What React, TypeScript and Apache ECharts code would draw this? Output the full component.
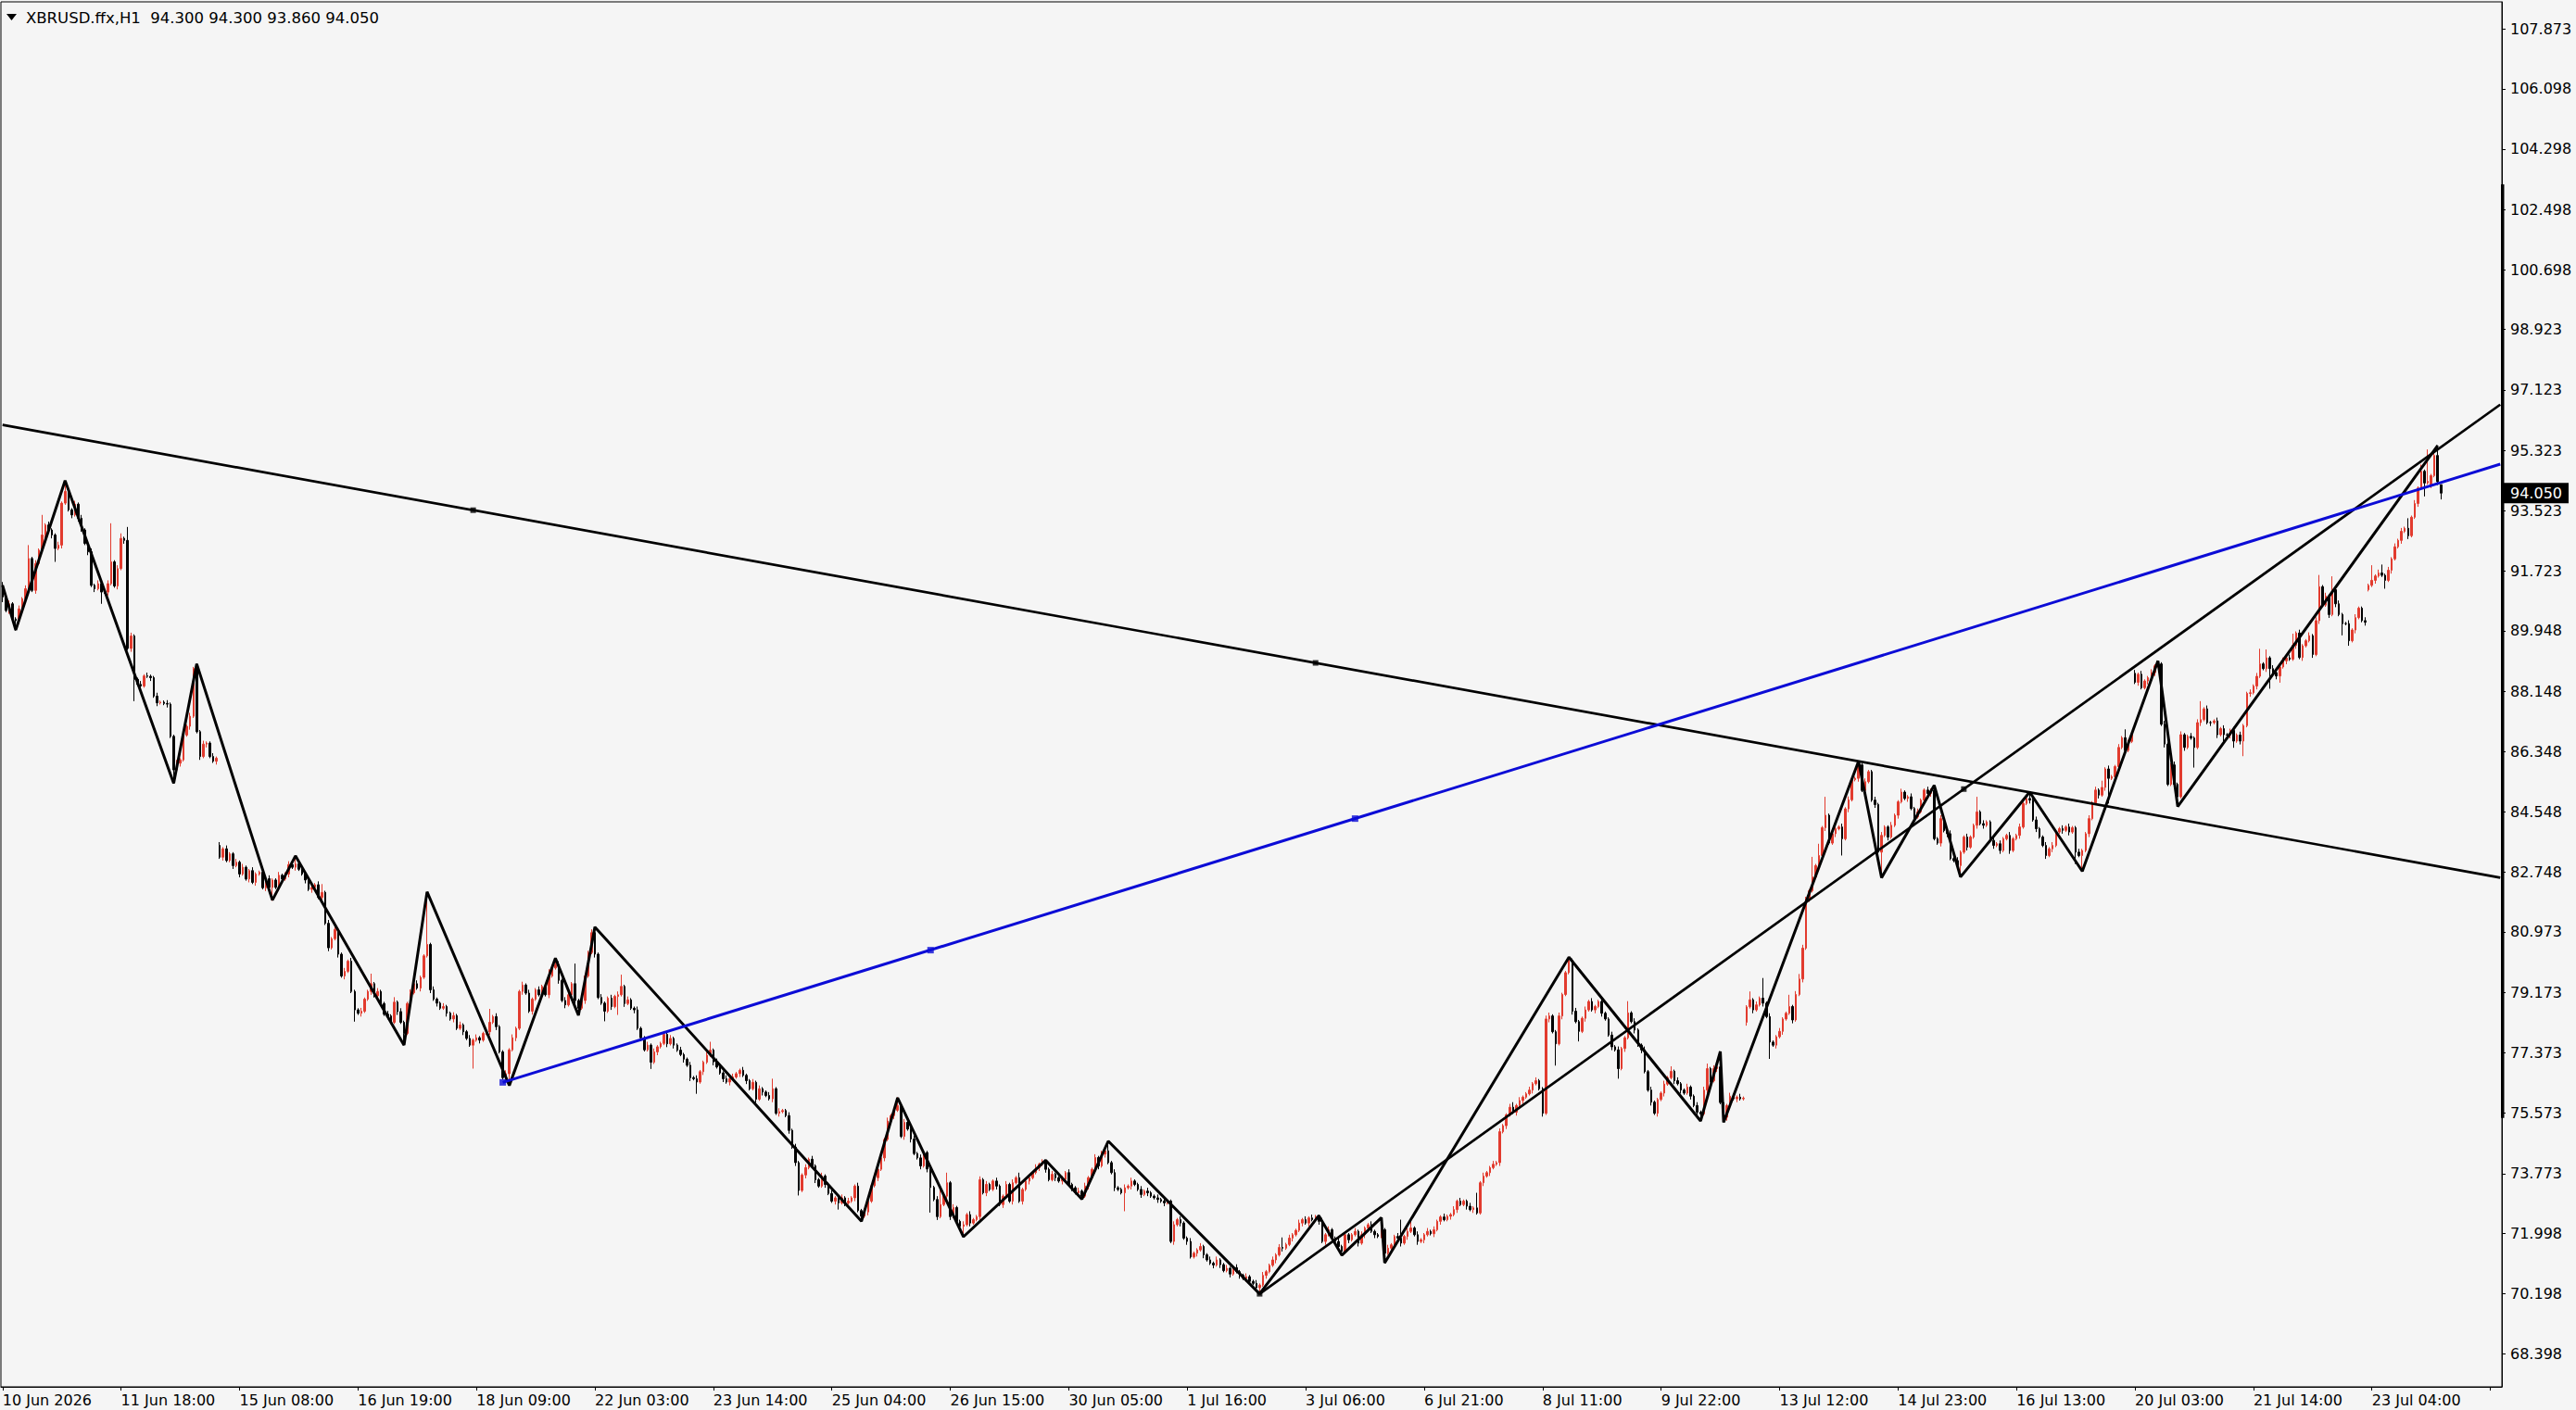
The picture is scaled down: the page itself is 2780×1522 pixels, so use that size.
import React, { useEffect, useRef } from "react";
import * as echarts from "echarts";

const symbolName = "XBRUSD.ffx";
const timeframe = "H1";
const slotCount = 760; // bar slots on the time axis, incl. the empty right margin
const barsPerLabel = 36;
const tickLabels = [
  "10 Jun 2026", "11 Jun 18:00", "15 Jun 08:00", "16 Jun 19:00", "18 Jun 09:00", "22 Jun 03:00",
  "23 Jun 14:00", "25 Jun 04:00", "26 Jun 15:00", "30 Jun 05:00", "1 Jul 16:00", "3 Jul 06:00",
  "6 Jul 21:00", "8 Jul 11:00", "9 Jul 22:00", "13 Jul 12:00", "14 Jul 23:00", "16 Jul 13:00",
  "20 Jul 03:00", "21 Jul 14:00", "23 Jul 04:00",
];
const priceTicks = [
  68.398, 70.198, 71.998, 73.773, 75.573, 77.373, 79.173, 80.973, 82.748, 84.548, 86.348, 88.148,
  89.948, 91.723, 93.523, 95.323, 97.123, 98.923, 100.698, 102.498, 104.298, 106.098, 107.873,
];
const priceMin = 67.418;
const priceMax = 108.687;

// H1 closes, one row per axis-label interval (36 bars)
const c0 = [90.95,90.55,90.75,90.30,90.25,90.60,90.90,91.20,92.10,91.15,91.95,92.35,92.80,93.10,92.95,92.80,92.40,92.50,93.75,94.10,93.55,93.40,93.72,93.30,92.95,92.55,92.30,91.30,91.20,91.35,91.10,91.10,91.35,92.00,91.28,91.80];
const c1 = [92.70,92.64,89.42,89.79,88.50,88.35,88.30,88.60,88.59,88.55,88.00,87.80,87.82,87.78,87.76,86.80,85.80,86.00,86.10,86.84,87.10,87.40,88.82,86.94,86.20,86.57,86.60,86.20,86.06,86.15,83.20,83.45,83.10,83.30,82.95,83.05];
const c2 = [82.70,82.90,82.55,82.80,82.45,82.70,82.75,82.29,82.56,82.30,82.52,82.30,82.66,82.55,82.70,82.98,82.90,83.00,82.84,82.70,82.52,82.24,82.30,82.38,82.00,82.15,81.23,80.50,80.77,81.05,80.31,79.66,79.80,80.10,79.20,78.65];
const c3 = [78.55,78.61,78.97,79.20,79.43,79.07,79.20,78.84,78.52,78.47,78.28,78.88,78.60,78.28,77.95,78.84,79.16,79.43,79.30,79.62,80.26,80.60,79.25,78.97,78.85,78.70,78.75,78.55,78.38,78.48,78.10,78.20,78.00,77.80,77.60,77.75];
const c4 = [77.82,77.75,77.95,78.00,78.28,78.45,78.15,77.40,76.63,76.75,77.46,77.82,78.10,79.20,79.39,79.15,78.61,78.97,79.25,79.10,79.35,79.10,79.66,79.90,80.00,79.53,78.93,78.80,79.10,79.43,78.93,78.70,78.93,79.66,80.36,80.95];
const c5 = [80.31,79.02,78.85,78.61,79.00,78.75,79.05,79.10,79.35,78.84,78.95,78.70,78.65,78.10,77.82,77.46,77.60,77.09,77.40,77.55,77.65,77.92,77.64,77.80,77.60,77.45,77.32,77.18,77.00,76.63,76.60,76.50,76.81,77.09,77.30,77.45];
const c6 = [77.10,76.95,76.77,76.60,76.50,76.60,76.65,76.75,76.85,76.70,76.54,76.30,76.49,75.99,76.30,76.20,76.10,76.00,76.30,75.57,75.62,75.65,75.50,75.06,74.56,74.10,73.27,73.73,73.95,74.20,74.00,73.59,73.40,73.70,73.45,73.18];
const c7 = [72.95,73.05,72.90,73.05,72.90,72.95,73.05,73.40,72.67,72.50,72.63,72.95,73.41,73.65,73.90,74.24,74.79,75.34,75.50,75.66,75.80,74.88,75.30,75.10,74.80,74.37,74.24,74.00,74.40,73.91,73.36,73.00,72.49,72.85,73.10,73.50];
const c8 = [72.49,72.76,72.35,72.20,72.25,72.55,72.30,72.40,72.49,73.59,73.20,73.45,73.30,73.55,73.40,72.85,73.10,73.45,72.95,73.50,73.65,72.95,73.30,73.55,73.65,73.80,73.95,74.05,74.10,73.90,73.59,73.75,73.65,73.55,73.60,73.80];
const c9 = [73.45,73.35,73.20,73.25,73.10,73.40,73.65,73.90,74.25,74.00,74.35,74.45,74.10,73.80,73.35,73.30,73.20,73.35,73.40,73.55,73.45,73.30,73.15,73.25,73.20,73.10,73.05,73.00,72.95,72.90,72.95,71.75,72.25,72.40,72.30,71.85];
const c10 = [71.75,71.29,71.40,71.50,71.60,71.35,71.20,71.10,71.05,71.20,71.06,70.88,70.95,70.78,70.97,70.85,70.74,70.65,70.70,70.56,70.50,70.37,70.45,70.74,70.85,71.04,71.20,71.35,71.57,71.55,71.66,71.85,71.95,72.08,72.30,72.40];
const c11 = [72.30,72.45,72.40,72.49,72.35,71.75,71.95,72.10,71.85,71.75,71.60,71.45,71.95,71.80,71.95,72.05,71.70,71.95,72.15,72.25,72.05,71.95,71.90,72.10,71.40,71.55,71.65,71.90,71.85,71.70,71.90,72.05,72.15,71.95,71.75,71.80];
const c12 = [71.95,72.05,71.98,72.10,72.35,72.48,72.40,72.50,72.55,72.70,72.95,72.85,72.95,72.80,72.70,72.75,72.60,73.50,73.70,73.80,73.95,74.05,74.10,75.02,75.20,75.52,75.75,75.60,75.80,75.95,76.05,76.15,76.26,76.45,76.54,76.30];
const c13 = [75.57,78.38,78.47,78.00,77.64,78.47,79.11,79.76,80.13,78.61,78.30,78.01,78.40,78.65,78.90,78.65,78.75,78.90,78.55,78.38,77.90,77.55,77.46,76.90,77.50,77.82,78.56,78.30,78.05,77.60,77.46,76.81,76.26,75.90,75.57,75.98];
const c14 = [76.17,76.44,76.63,76.82,76.54,76.45,76.26,76.17,76.35,76.08,75.80,75.60,75.55,76.26,76.90,76.54,76.90,76.95,75.89,75.45,75.80,76.08,76.00,76.05,76.00,76.02,78.74,78.95,78.65,78.80,79.00,78.85,78.45,77.69,77.60,77.85];
const c15 = [78.01,78.38,78.55,78.75,78.35,79.11,79.57,80.49,81.97,82.20,82.61,82.95,83.25,84.08,84.45,83.62,83.90,84.05,84.10,83.75,84.64,84.91,85.51,85.55,85.95,85.19,85.45,85.75,84.90,84.77,83.35,83.85,84.10,83.80,84.15,84.45];
const c16 = [84.85,85.14,84.95,85.00,84.65,84.40,84.55,84.90,85.20,85.10,85.20,83.75,83.62,84.35,83.99,83.90,83.16,83.10,82.95,83.35,83.80,83.50,83.80,84.15,84.55,84.20,84.15,84.25,83.70,83.55,83.60,83.40,83.75,83.85,83.40,83.75];
const c17 = [83.85,84.10,84.80,84.95,84.90,84.31,84.05,83.80,83.55,83.25,83.45,83.55,83.95,84.05,84.00,84.10,83.95,84.08,83.35,83.25,83.40,83.90,84.35,84.82,85.20,85.05,85.28,85.83,85.55,85.60,85.90,86.47,86.76,86.38,86.65,86.85];
const c18 = [88.41,88.65,88.25,88.45,88.55,88.70,88.90,88.96,87.16,86.57,85.37,85.95,85.37,85.00,86.85,86.47,86.80,86.75,86.47,87.21,87.30,87.62,87.21,87.21,87.26,86.85,87.03,86.85,86.84,86.98,86.66,86.84,86.66,87.12,88.08,88.10];
const c19 = [88.30,88.59,88.96,88.82,89.14,88.82,88.70,88.60,88.87,89.05,89.14,89.10,89.51,89.88,89.15,89.50,89.65,89.80,89.24,90.25,91.26,90.71,90.98,90.43,91.17,90.75,90.43,90.16,90.16,89.65,89.97,90.34,90.62,90.25,90.20,91.30];
const c20 = [91.45,91.58,91.67,91.60,91.45,91.75,92.09,92.45,92.64,92.91,93.00,92.78,93.33,93.74,94.20,94.70,94.35,94.40,94.57,95.17,94.39,94.05];

// bars whose open is not the previous close (session gaps): [bar, open]
const gapOpens: [number, number][] = [[0, 91.30], [66, 83.55], [530, 78.28], [648, 88.68], [719, 91.17], [738, 94.30]];
// last (current) bar as shown in the header
const lastBar = { open: 94.30, high: 94.30, low: 93.86, close: 94.05 };

// wick lengths in steps of 0.05
const wickStep = 0.05;
const u0 = [2,1,2,1,1,2,1,2,8,1,2,1,12,1,2,1,1,2,1,6,2,1,2,1,2,1,1,2,1,2,1,1,2,23,1,2];
const u1 = [3,1,8,2,1,1,2,1,2,1,1,2,1,1,2,1,1,2,1,2,1,2,1,3,1,2,1,1,2,1,2,1,2,1,1,2];
const u2 = [1,2,1,1,2,1,1,2,1,2,1,1,2,1,1,2,1,5,1,2,1,1,2,1,2,5,1,2,1,2,1,1,2,1,2,1];
const u3 = [1,2,1,1,6,1,2,1,1,2,1,3,1,2,1,1,2,1,2,1,1,31,1,2,1,1,2,1,1,2,1,2,1,1,2,1];
const u4 = [2,1,1,2,8,1,2,1,1,2,1,2,1,1,2,1,2,1,1,2,1,1,4,1,4,2,1,2,1,1,12,1,2,1,1,2];
const u5 = [3,1,2,1,1,2,1,2,7,1,2,1,1,2,1,1,2,1,2,1,1,2,1,2,1,1,2,1,1,2,1,2,1,1,2,5];
const u6 = [1,2,1,1,2,1,2,1,1,2,1,1,2,1,2,1,1,2,6,1,2,1,1,2,1,2,1,1,2,1,2,1,1,2,1,1];
const u7 = [2,1,1,2,1,2,1,1,2,1,2,1,1,2,1,2,1,2,1,1,5,1,2,1,1,2,1,2,1,1,2,1,2,11,1,6];
const u8 = [1,2,1,1,2,1,2,1,1,2,1,2,1,1,2,1,1,2,1,2,1,3,1,2,1,1,2,1,2,1,1,2,1,1,2,1];
const u9 = [2,1,1,2,1,2,1,1,2,1,2,1,6,1,2,1,1,2,1,2,1,1,2,1,2,1,1,2,1,2,1,1,2,1,2,1];
const u10 = [1,2,1,1,2,1,1,2,1,2,1,1,2,1,1,2,1,1,2,1,1,2,1,2,1,1,2,1,2,6,1,2,1,1,2,1];
const u11 = [2,1,2,1,1,2,1,2,1,1,2,1,2,1,1,2,1,2,1,1,2,1,1,7,1,2,1,1,2,11,1,2,5,1,2,1];
const u12 = [1,2,1,2,1,1,2,1,1,2,1,2,1,1,2,1,9,1,2,1,1,2,1,2,1,1,2,3,1,2,1,1,2,1,2,1];
const u13 = [1,2,2,1,1,2,1,1,2,1,2,1,1,2,1,2,1,1,2,1,1,2,1,2,1,1,7,1,2,1,1,2,1,2,1,1];
const u14 = [1,2,1,3,1,2,1,1,2,1,1,2,1,2,3,1,2,1,9,1,1,2,1,1,2,1,1,5,1,2,1,12,1,2,1,1];
const u15 = [2,1,1,7,1,2,3,2,1,1,12,1,7,1,11,1,2,1,1,2,1,2,1,1,2,1,2,1,1,2,1,2,1,1,2,1];
const u16 = [1,2,1,1,2,1,2,1,1,2,1,3,1,2,1,1,2,1,2,1,1,2,1,1,9,1,2,1,1,2,1,2,1,1,2,1];
const u17 = [1,2,1,1,4,1,2,1,1,2,1,2,1,1,2,1,2,1,1,2,1,1,2,1,2,1,4,1,2,1,1,2,1,5,1,2];
const u18 = [2,1,2,1,1,2,1,2,1,2,1,1,2,1,2,1,1,2,1,2,11,1,2,1,1,2,1,2,1,1,2,1,2,1,1,2];
const u19 = [1,2,9,1,5,1,2,1,1,2,1,2,7,1,2,1,1,2,1,2,7,1,2,1,8,1,2,1,1,2,1,2,1,1,2,1];
const u20 = [9,1,2,5,1,2,1,2,1,2,1,6,1,2,1,4,1,19,1,2,6,0];
const l0 = [3,1,2,1,6,2,1,2,1,1,2,1,1,2,1,2,8,1,2,1,1,2,1,2,1,1,2,1,2,1,7,1,2,1,1,2];
const l1 = [1,2,1,2,13,1,2,1,1,2,1,2,1,1,2,1,8,1,2,1,1,2,1,1,2,1,2,1,1,2,1,2,1,1,2,1];
const l2 = [2,1,1,2,1,2,1,1,2,1,8,1,2,1,1,2,1,2,1,1,2,1,2,1,1,2,1,2,1,1,2,1,2,1,1,7];
const l3 = [1,2,1,1,2,1,2,1,1,2,1,1,2,1,7,1,2,1,1,2,1,1,2,1,2,1,1,2,1,2,1,1,2,1,1,14];
const l4 = [1,2,1,1,2,1,2,1,1,2,7,1,2,1,2,1,1,2,1,1,2,1,2,1,1,2,1,2,1,1,2,4,1,2,1,1];
const l5 = [2,1,1,6,1,2,1,11,1,2,1,1,2,1,2,1,1,4,1,2,1,1,2,1,2,1,1,2,1,2,1,7,1,2,1,1];
const l6 = [2,1,1,2,1,2,1,1,2,1,2,1,1,2,1,2,1,1,2,1,2,1,1,2,1,2,3,1,2,1,1,2,1,1,2,1];
const l7 = [1,2,4,1,2,1,1,2,1,3,1,2,1,1,2,1,2,1,1,2,1,1,2,1,2,1,1,2,1,2,15,1,2,1,1,2];
const l8 = [2,1,1,2,6,1,2,1,1,2,1,2,1,1,2,1,2,1,1,2,1,1,2,1,2,1,1,2,1,2,1,1,2,1,2,1];
const l9 = [1,2,1,1,2,1,2,1,1,2,1,2,1,1,2,1,1,11,1,2,1,1,2,1,2,1,1,2,1,2,1,1,2,1,2,1];
const l10 = [2,1,1,2,1,2,1,1,2,1,2,1,1,2,1,1,2,1,2,1,1,2,4,1,2,1,1,2,1,2,1,1,2,1,1,2];
const l11 = [1,2,1,1,2,1,2,1,1,2,1,2,1,2,1,1,2,1,2,1,1,2,1,1,6,1,2,1,1,2,1,2,1,1,2,1];
const l12 = [2,1,1,2,1,2,1,1,2,1,2,1,1,2,1,2,1,1,2,1,2,1,1,2,1,2,1,1,2,1,2,1,1,2,1,1];
const l13 = [2,1,2,1,13,1,2,1,1,2,1,6,1,2,1,1,2,1,2,1,1,2,1,6,1,2,1,1,2,1,2,1,1,2,1,2];
const l14 = [1,2,1,1,2,1,2,1,1,2,1,2,4,1,2,1,1,2,1,3,2,1,1,2,1,1,2,1,2,1,1,2,1,10,1,2];
const l15 = [1,2,1,1,2,1,1,2,1,2,1,1,2,1,2,1,1,2,1,10,1,2,1,1,2,1,2,1,1,2,1,15,1,2,1,1];
const l16 = [2,1,1,2,1,2,1,1,2,1,2,1,1,2,1,2,1,1,2,7,1,2,1,1,2,1,2,1,1,2,1,2,1,1,2,1];
const l17 = [1,2,1,1,2,1,2,1,1,2,1,2,1,1,2,1,2,1,7,1,9,1,2,1,1,2,1,2,15,1,1,2,1,2,1,1];
const l18 = [1,2,1,1,2,1,2,1,1,2,1,1,2,6,1,2,1,1,12,1,2,1,1,2,1,2,1,5,1,2,4,1,2,9,1,2];
const l19 = [1,2,1,1,2,12,1,2,4,1,2,1,1,2,1,2,1,1,2,1,2,1,1,2,1,2,1,7,1,3,1,2,1,1,2,1];
const l20 = [1,2,1,1,5,1,2,1,1,2,1,2,1,1,2,1,8,1,2,1,2,4];

// ZigZag swing points: [bar, price]
const zigzagPoints: [number, number][] = [
  [0, 91.30], [4, 89.97], [19, 94.42], [52, 85.40], [59, 88.96], [82, 81.92], [89, 83.24],
  [122, 77.60], [129, 82.17], [154, 76.40], [168, 80.19], [175, 78.49], [180, 81.12],
  [261, 72.35], [272, 76.03], [292, 71.89], [317, 74.17], [328, 73.01], [336, 74.74],
  [382, 70.19], [400, 72.52], [407, 71.34], [419, 72.46], [420, 71.11], [476, 80.22],
  [516, 75.34], [522, 77.41], [523, 75.30], [564, 86.06], [571, 82.59], [587, 85.34],
  [595, 82.61], [616, 85.14], [632, 82.78], [655, 89.05], [661, 84.71], [740, 95.47],
];
// trend lines: two anchors each [bar, price]
const trendDown: [number, number][] = [[143, 93.54], [399, 88.99]];
const trendUp: [number, number][] = [[382, 70.19], [596, 85.23]];
const trendBlue: [number, number][] = [[152, 76.49], [411, 84.35]];
const blueMid: [number, number] = [282, 80.43];
const scaleBar: [number, number] = [103.25, 75.43];

const FONT = "DejaVu Sans";
const RED = "#E23B2E";
const BLUE = "#0C0CD6";
const GRID_LEFT = 1;
const GRID_RIGHT = 80;
const GRID_TOP = 2;
const GRID_BOTTOM = 25;
const WIDTH = 2780;
const HEIGHT = 1522;

const closes = [...c0, ...c1, ...c2, ...c3, ...c4, ...c5, ...c6, ...c7, ...c8, ...c9, ...c10,
  ...c11, ...c12, ...c13, ...c14, ...c15, ...c16, ...c17, ...c18, ...c19, ...c20];
const upper = [...u0, ...u1, ...u2, ...u3, ...u4, ...u5, ...u6, ...u7, ...u8, ...u9, ...u10,
  ...u11, ...u12, ...u13, ...u14, ...u15, ...u16, ...u17, ...u18, ...u19, ...u20];
const lower = [...l0, ...l1, ...l2, ...l3, ...l4, ...l5, ...l6, ...l7, ...l8, ...l9, ...l10,
  ...l11, ...l12, ...l13, ...l14, ...l15, ...l16, ...l17, ...l18, ...l19, ...l20];

function buildCandles() {
  const gaps = new Map(gapOpens);
  return closes.map((c, i) => {
    if (i === closes.length - 1) return [lastBar.open, lastBar.close, lastBar.low, lastBar.high];
    const o = gaps.has(i) ? (gaps.get(i) as number) : closes[i - 1];
    const hi = Math.max(o, c) + (upper[i] ?? 1) * wickStep;
    const lo = Math.min(o, c) - (lower[i] ?? 1) * wickStep;
    return [o, c, +lo.toFixed(2), +hi.toFixed(2)];
  });
}

function extend(a: [number, number], b: [number, number], bar: number) {
  return a[1] + ((b[1] - a[1]) * (bar - a[0])) / (b[0] - a[0]);
}

export default function App() {
  const ref = useRef<HTMLDivElement>(null);
  useEffect(() => {
    if (!ref.current) return;
    const chart = echarts.init(ref.current, undefined, { renderer: "svg" });
    const categories = Array.from({ length: slotCount }, (_, i) => String(i));
    const lastSlot = slotCount - 1;
    const showTick = (i: number) => i % barsPerLabel === 0;
    const header = `${symbolName},${timeframe}  ${lastBar.open.toFixed(3)} ${lastBar.high.toFixed(3)} ${lastBar.low.toFixed(3)} ${lastBar.close.toFixed(3)}`;
    const plotRight = WIDTH - GRID_RIGHT;

    const baseGraphics = [
      { type: "polygon", id: "tri", shape: { points: [[7, 15], [18, 15], [12.5, 22]] }, style: { fill: "#000" } },
      { type: "text", id: "hdr", x: 28, y: 19, style: { text: header, font: `16.5px "${FONT}"`, fill: "#000", verticalAlign: "middle" } },
    ];

    const option: any = {
      animation: false,
      backgroundColor: "#F5F5F5",
      grid: {
        left: GRID_LEFT, right: GRID_RIGHT, top: GRID_TOP, bottom: GRID_BOTTOM, show: true,
        borderColor: "#000", borderWidth: 1, backgroundColor: "transparent",
        containLabel: false, outerBoundsMode: "none",
      },
      xAxis: {
        type: "category",
        data: categories,
        boundaryGap: true,
        axisLine: { show: true, lineStyle: { color: "#000", width: 1 } },
        axisTick: { show: true, interval: showTick, alignWithLabel: true, length: 4, inside: false, lineStyle: { color: "#000", width: 1 } },
        axisLabel: {
          show: true, interval: showTick, hideOverlap: false,
          formatter: (_v: string, idx: number) => tickLabels[idx / barsPerLabel] ?? "",
          align: "left", margin: 6, fontFamily: FONT, fontSize: 16, color: "#000",
        },
        splitLine: { show: false },
      },
      yAxis: {
        type: "value",
        position: "right",
        min: priceMin,
        max: priceMax,
        scale: true,
        axisLine: { show: true, lineStyle: { color: "#000", width: 1 } },
        axisTick: { show: true, customValues: priceTicks, length: 4, inside: false, lineStyle: { color: "#000" } },
        axisLabel: {
          show: true, customValues: priceTicks, formatter: (v: number) => v.toFixed(3),
          margin: 9, fontFamily: FONT, fontSize: 16, color: "#000",
        },
        splitLine: { show: false },
      },
      series: [
        {
          type: "candlestick",
          data: buildCandles(),
          barWidth: 2,
          large: false,
          itemStyle: {
            color: RED, color0: "#000", borderColor: RED, borderColor0: "#000",
            borderColorDoji: "#000", borderWidth: 1,
          },
          z: 2,
        },
        {
          type: "line",
          data: zigzagPoints,
          showSymbol: false,
          lineStyle: { color: "#000", width: 3 },
          z: 4,
        },
        {
          type: "line",
          data: [[0, extend(trendDown[0], trendDown[1], 0)], [lastSlot, extend(trendDown[0], trendDown[1], lastSlot)]],
          showSymbol: false,
          lineStyle: { color: "#000", width: 2.7 },
          z: 4,
        },
        {
          type: "line",
          data: [trendUp[0], [lastSlot, extend(trendUp[0], trendUp[1], lastSlot)]],
          showSymbol: false,
          lineStyle: { color: "#000", width: 2.7 },
          z: 4,
        },
        {
          type: "line",
          data: [trendBlue[0], [lastSlot, extend(trendBlue[0], trendBlue[1], lastSlot)]],
          showSymbol: false,
          lineStyle: { color: BLUE, width: 3 },
          z: 5,
        },
        {
          type: "scatter",
          data: [...trendDown, ...trendUp],
          symbol: "rect",
          symbolSize: 6,
          itemStyle: { color: "#000" },
          z: 6,
        },
        {
          type: "scatter",
          data: [trendBlue[0], blueMid, trendBlue[1]],
          symbol: "rect",
          symbolSize: 7,
          itemStyle: { color: BLUE },
          z: 6,
        },
      ],
      graphic: baseGraphics,
    };
    chart.setOption(option);

    const yTop = chart.convertToPixel({ yAxisIndex: 0 }, scaleBar[0]) as number;
    const yBot = chart.convertToPixel({ yAxisIndex: 0 }, scaleBar[1]) as number;
    const yLast = chart.convertToPixel({ yAxisIndex: 0 }, lastBar.close) as number;
    chart.setOption({
      graphic: [
        ...baseGraphics,
        { type: "rect", id: "scalebar", z: 10, shape: { x: plotRight - 1, y: yTop, width: 3.5, height: yBot - yTop }, style: { fill: "#000" } },
        { type: "rect", id: "pricebox", z: 11, shape: { x: plotRight + 1, y: yLast - 11, width: 71, height: 22 }, style: { fill: "#000" } },
        { type: "text", id: "pricetxt", z: 12, x: plotRight + 9, y: yLast, style: { text: lastBar.close.toFixed(3), font: `16px "${FONT}"`, fill: "#fff", verticalAlign: "middle" } },
      ],
    });
    return () => chart.dispose();
  }, []);
  return <div ref={ref} style={{ position: "fixed", left: 0, top: 0, width: WIDTH, height: HEIGHT }} />;
}
